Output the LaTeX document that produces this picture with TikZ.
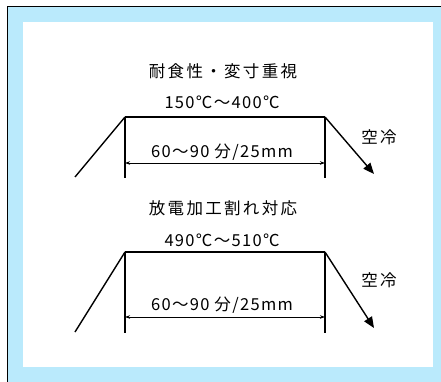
\documentclass[tikz,border=0pt]{standalone}
\usepackage{fontspec}
\setmainfont{Noto Sans CJK JP}[LetterSpace=8]
\newfontfamily\spacedcjk{Noto Sans CJK JP}[LetterSpace=14]
\usetikzlibrary{arrows.meta}
\definecolor{frameblue}{RGB}{186,234,252}
\tikzset{
  lbl/.style={inner sep=0pt, font=\fontsize{16.5}{16.5}\selectfont},
  ttl/.style={inner sep=0pt, font=\spacedcjk\fontsize{16.5}{16.5}\selectfont},
  plateau/.style={line width=1.5pt},
  wall/.style={line width=2.8pt},
  ramp/.style={line width=1.4pt},
  dim/.style={line width=0.7pt, {Stealth[length=5pt,width=3.5pt]}-{Stealth[length=5pt,width=3.5pt]}},
  cool/.style={line width=1.4pt, -{Triangle[length=11pt,width=9pt]}}
}
\begin{document}
\begin{tikzpicture}[x=1pt,y=-1pt]
\useasboundingbox (0,0) rectangle (441,382);
\fill[white] (0,0) rectangle (441,382);
\fill[frameblue] (7,7) rectangle (441,382);
\draw[line width=1pt] (7,382) -- (7,7) -- (441,7);
\fill[white] (23,22) rectangle (433,367);
% top diagram
\node[ttl] (t1) at (223,71) {耐食性・変寸重視};
\node[lbl] (r1) at (222,102) {150℃～400℃};
\coordinate (a1) at (125,117);
\coordinate (b1) at (325,117);
\coordinate (s1) at (75,177);
\coordinate (al1) at (125,178);
\coordinate (bl1) at (325,178);
\coordinate (e1) at (374,174);
\draw[ramp] (s1) -- (a1);
\draw[plateau] (a1) -- (b1);
\draw[wall] (a1) -- (al1);
\draw[wall] (b1) -- (bl1);
\draw[dim] (125,163) -- (325,163);
\node[lbl] (d1) at (222,152) {60～90 分/25mm};
\draw[cool] (b1) -- (e1);
\node[ttl] (c1) at (379,137) {空冷};
% bottom diagram
\node[ttl] (t2) at (223,208) {放電加工割れ対応};
\node[lbl] (r2) at (222,240) {490℃～510℃};
\coordinate (a2) at (125,252);
\coordinate (b2) at (325,252);
\coordinate (s2) at (75,332);
\coordinate (al2) at (125,333);
\coordinate (bl2) at (325,333);
\coordinate (e2) at (374,328);
\draw[ramp] (s2) -- (a2);
\draw[plateau] (a2) -- (b2);
\draw[wall] (a2) -- (al2);
\draw[wall] (b2) -- (bl2);
\draw[dim] (125,317) -- (325,317);
\node[lbl] (d2) at (222,305) {60～90 分/25mm};
\draw[cool] (b2) -- (e2);
\node[ttl] (c2) at (379,280) {空冷};
\end{tikzpicture}
\end{document}
